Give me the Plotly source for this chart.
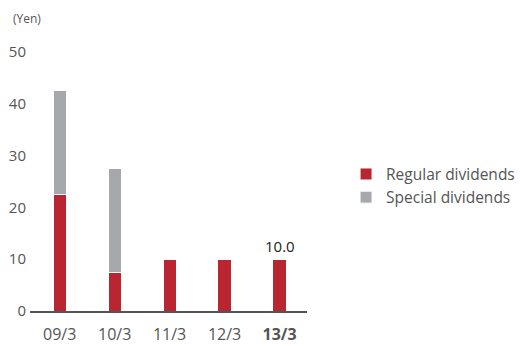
import plotly.graph_objects as go

categories = ["09/3", "10/3", "11/3", "12/3", "13/3"]
tick_labels = ["09/3", "10/3", "11/3", "12/3", "<b>13/3</b>"]
regular = [22.5, 7.5, 10.0, 10.0, 10.0]
special = [20.0, 20.0, 0, 0, 0]
y_ticks = [0, 10, 20, 30, 40, 50]

RED = "#b92530"
GRAY = "#a7a8ab"
FONT = "Open Sans"

fig = go.Figure()
fig.add_trace(go.Bar(x=categories, y=regular, name="Regular dividends", legendgroup="a",
                     marker=dict(color=RED, line=dict(color="white", width=1)),
                     width=0.24))
fig.add_trace(go.Bar(x=categories, y=special, name="Special dividends", legendgroup="b",
                     marker=dict(color=GRAY, line=dict(color="white", width=1)),
                     width=0.24))

fig.add_annotation(x=categories[-1], y=regular[-1], text="10.0", showarrow=False,
                   yanchor="bottom", yshift=1, font=dict(family=FONT, size=15, color="#222222"))
fig.add_annotation(xref="paper", yref="paper", x=-0.07, y=1.13, text="(Yen)", showarrow=False,
                   xanchor="left", yanchor="middle", font=dict(family=FONT, size=12, color="#555555"))

fig.update_layout(
    barmode="stack",
    width=521, height=346,
    margin=dict(l=30, r=214, t=52, b=35, autoexpand=False),
    paper_bgcolor="white", plot_bgcolor="white",
    font=dict(family=FONT, size=15, color="#555555"),
    showlegend=True,
    legend=dict(x=1.141, y=0.483, xanchor="left", yanchor="middle",
                font=dict(family=FONT, size=15.5, color="#555555"),
                traceorder="normal", itemwidth=30, tracegroupgap=9),
    xaxis=dict(type="category", tickmode="array", tickvals=categories, ticktext=tick_labels,
               range=[-0.54, 4.5], showline=True, linecolor="#555555", linewidth=1.5,
               showgrid=False, ticks="", automargin=False, ticklabelstandoff=8,
               tickfont=dict(family=FONT, size=16, color="#555555")),
    yaxis=dict(range=[0, 50], tickvals=y_ticks, showgrid=False, zeroline=False,
               showline=False, ticks="", ticklabelstandoff=3, automargin=False,
               tickfont=dict(family=FONT, size=15, color="#555555")),
)

fig.write_html("out.html", config={"displayModeBar": False},
               post_script="document.body.style.margin='0';")
